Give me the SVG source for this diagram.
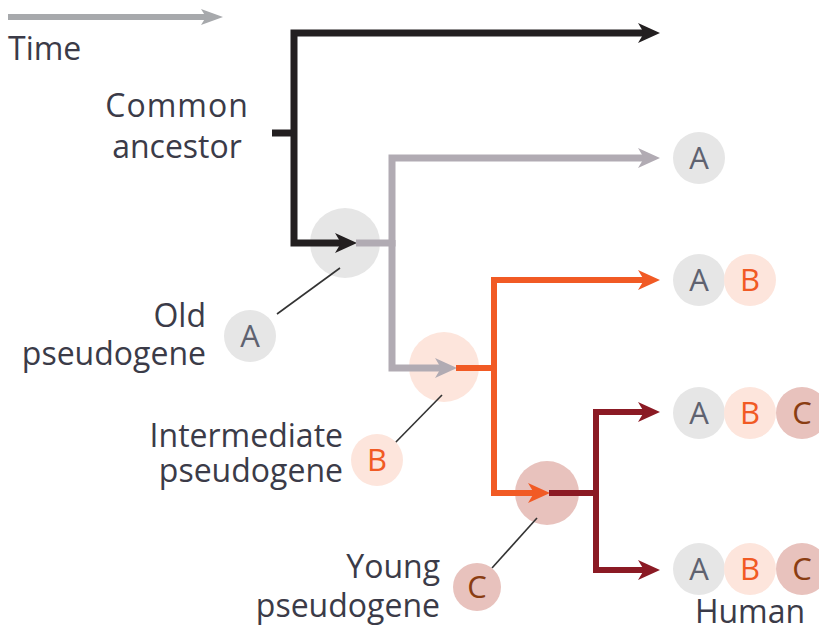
<svg xmlns="http://www.w3.org/2000/svg" width="819" height="632" viewBox="0 0 819 632">
<style>
.t{font-family:"Open Sans","Noto Sans",sans-serif;font-size:32px;fill:#3b3b48}
.c{font-family:"Open Sans","Noto Sans",sans-serif;font-size:31px;text-anchor:middle}
.ca{fill:#e6e6e6}.cb{fill:#fde5dc}.cc{fill:#e8c2bd}
.la{fill:#5f6270}.lb{fill:#f15a24}.lc{fill:#8a3d12}
.ln{fill:none;stroke-linejoin:miter;stroke-linecap:butt}
.lead{stroke:#333;stroke-width:1.6}
</style>
<defs>
<marker id="mk" markerUnits="userSpaceOnUse" viewBox="-10 -12 28 24" markerWidth="28" markerHeight="24" refX="0" refY="0" orient="auto"><path d="M15,0 L-7,-10 L-1,0 L-7,10 Z" fill="#231f20"/></marker>
<marker id="mg" markerUnits="userSpaceOnUse" viewBox="-10 -12 28 24" markerWidth="28" markerHeight="24" refX="0" refY="0" orient="auto"><path d="M15,0 L-7,-10 L-1,0 L-7,10 Z" fill="#b1abb3"/></marker>
<marker id="mo" markerUnits="userSpaceOnUse" viewBox="-10 -12 28 24" markerWidth="28" markerHeight="24" refX="0" refY="0" orient="auto"><path d="M15,0 L-7,-10 L-1,0 L-7,10 Z" fill="#f15a24"/></marker>
<marker id="md" markerUnits="userSpaceOnUse" viewBox="-10 -12 28 24" markerWidth="28" markerHeight="24" refX="0" refY="0" orient="auto"><path d="M15,0 L-7,-10 L-1,0 L-7,10 Z" fill="#8b1a24"/></marker>
<marker id="mt" markerUnits="userSpaceOnUse" viewBox="-10 -12 28 24" markerWidth="28" markerHeight="24" refX="0" refY="0" orient="auto"><path d="M15,0 L-7,-8 L-2,0 L-7,8 Z" fill="#a7a9ac"/></marker>
</defs>

<g id="time">
<path class="ln" d="M8,17 H208" stroke="#a7a9ac" stroke-width="6" marker-end="url(#mt)"/>
<text class="t" x="8" y="60">Time</text>
</g>

<g id="node-old">
<circle class="ca" cx="345" cy="243" r="35"/>
</g>
<g id="node-intermediate">
<circle class="cb" cx="444" cy="367" r="35"/>
</g>
<g id="node-young">
<circle class="cc" cx="547" cy="493" r="32"/>
</g>

<g id="connectors">
<path class="ln" d="M272,133 H294" stroke="#231f20" stroke-width="7"/>
<path class="ln" d="M294,133 V33 H645" stroke="#231f20" stroke-width="7" marker-end="url(#mk)"/>
<path class="ln" d="M294,133 V243 H342" stroke="#231f20" stroke-width="7" marker-end="url(#mk)"/>
<path class="ln" d="M356,243 H392 V158 H645" stroke="#b1abb3" stroke-width="7" marker-end="url(#mg)"/>
<path class="ln" d="M392,240 V368 H442" stroke="#b1abb3" stroke-width="7" marker-end="url(#mg)"/>
<path class="ln" d="M456,368 H494 V280 H645" stroke="#f15a24" stroke-width="6" marker-end="url(#mo)"/>
<path class="ln" d="M494,365 V493 H535" stroke="#f15a24" stroke-width="6" marker-end="url(#mo)"/>
<path class="ln" d="M549,493 H596 V412 H645" stroke="#8b1a24" stroke-width="6" marker-end="url(#md)"/>
<path class="ln" d="M596,490 V570 H645" stroke="#8b1a24" stroke-width="6" marker-end="url(#md)"/>
<line class="lead" x1="277" y1="314" x2="340" y2="268"/>
<line class="lead" x1="393" y1="445" x2="442" y2="395"/>
<line class="lead" x1="492" y1="568" x2="537" y2="518"/>
</g>

<g id="label-ancestor">
<text class="t" x="177" y="117" text-anchor="middle" letter-spacing="1">Common</text>
<text class="t" x="177" y="158" text-anchor="middle">ancestor</text>
</g>

<g id="label-old">
<text class="t" x="206" y="327" text-anchor="end">Old</text>
<text class="t" x="206" y="365" text-anchor="end">pseudogene</text>
<circle class="ca" cx="250" cy="336" r="26"/>
<text class="c la" x="250" y="347">A</text>
</g>

<g id="label-intermediate">
<text class="t" x="343" y="447" text-anchor="end">Intermediate</text>
<text class="t" x="343" y="482" text-anchor="end">pseudogene</text>
<circle class="cb" cx="377" cy="460" r="26"/>
<text class="c lb" x="377" y="471">B</text>
</g>

<g id="label-young">
<text class="t" x="440" y="578" text-anchor="end">Young</text>
<text class="t" x="440" y="617" text-anchor="end">pseudogene</text>
<circle class="cc" cx="477" cy="587" r="24"/>
<text class="c lc" x="477" y="598">C</text>
</g>

<g id="tip-2">
<circle class="ca" cx="699" cy="158" r="26"/>
<text class="c la" x="699" y="169">A</text>
</g>
<g id="tip-3">
<circle class="ca" cx="699" cy="280" r="26"/>
<text class="c la" x="699" y="291">A</text>
<circle class="cb" cx="750" cy="280" r="26"/>
<text class="c lb" x="750" y="291">B</text>
</g>
<g id="tip-4">
<circle class="ca" cx="699" cy="413" r="26"/>
<text class="c la" x="699" y="424">A</text>
<circle class="cb" cx="750" cy="413" r="26"/>
<text class="c lb" x="750" y="424">B</text>
<circle class="cc" cx="802" cy="413" r="26"/>
<text class="c lc" x="802" y="424">C</text>
</g>
<g id="tip-human">
<circle class="ca" cx="699" cy="569" r="26"/>
<text class="c la" x="699" y="580">A</text>
<circle class="cb" cx="750" cy="569" r="26"/>
<text class="c lb" x="750" y="580">B</text>
<circle class="cc" cx="802" cy="569" r="26"/>
<text class="c lc" x="802" y="580">C</text>
<text class="t" x="750" y="623" text-anchor="middle">Human</text>
</g>
</svg>
